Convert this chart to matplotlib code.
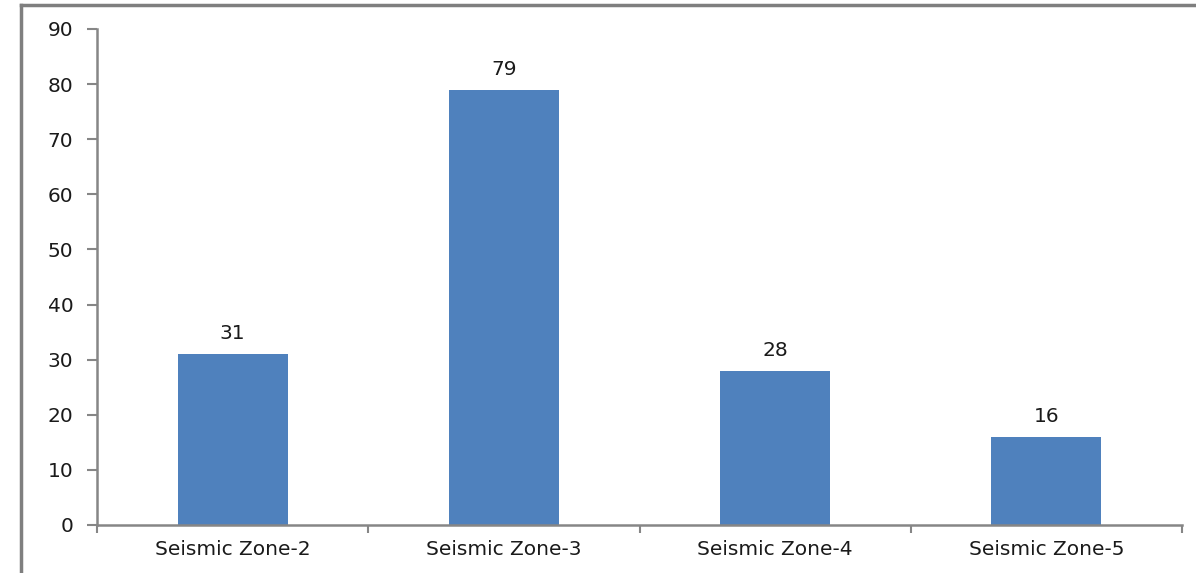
import numpy as np
import matplotlib.pyplot as plt
from matplotlib.lines import Line2D

zones = ["Seismic Zone-2", "Seismic Zone-3", "Seismic Zone-4", "Seismic Zone-5"]
counts = [31, 79, 28, 16]
y_ticks = [0, 10, 20, 30, 40, 50, 60, 70, 80, 90]

BAR_COLOR = "#4F81BD"
AXIS_COLOR = "#868686"
TEXT_COLOR = "#1a1a1a"
FS = 14.5

fig = plt.figure(figsize=(11.96, 5.73), dpi=100)
ax = fig.add_axes([97 / 1196, 1 - 525 / 573, (1182 - 97) / 1196, (525 - 29) / 573])

x = np.arange(len(zones))
bars = ax.bar(x, counts, width=0.405, color=BAR_COLOR, zorder=2)
for rect, v in zip(bars, counts):
    ax.annotate(str(v), (rect.get_x() + rect.get_width() / 2, v),
                xytext=(0, 8), textcoords="offset points",
                ha="center", va="bottom", fontsize=FS, color=TEXT_COLOR)

ax.set_xlim(-0.5, len(zones) - 0.5)
ax.set_ylim(0, 90)
ax.set_yticks(y_ticks)
ax.tick_params(axis="y", length=7, width=1.5, color=AXIS_COLOR,
               labelsize=FS, labelcolor=TEXT_COLOR, pad=10)

# category ticks sit on the boundaries between bars
ax.set_xticks(x)
ax.set_xticklabels(zones)
ax.set_xticks(np.arange(len(zones) + 1) - 0.5, minor=True)
ax.tick_params(axis="x", which="major", length=0, labelsize=FS,
               labelcolor=TEXT_COLOR, pad=11)
ax.tick_params(axis="x", which="minor", length=6, width=1.5, color=AXIS_COLOR)

for side in ["top", "right"]:
    ax.spines[side].set_visible(False)
for side in ["left", "bottom"]:
    ax.spines[side].set_color(AXIS_COLOR)
    ax.spines[side].set_linewidth(1.8)

# partial frame around the chart area (top and left edges only)
fig.add_artist(Line2D([21 / 1196, 1], [1 - 5 / 573, 1 - 5 / 573],
                      transform=fig.transFigure, color="#7f7f7f", linewidth=2.5))
fig.add_artist(Line2D([21 / 1196, 21 / 1196], [0, 1 - 5 / 573],
                      transform=fig.transFigure, color="#7f7f7f", linewidth=2.5))

fig.savefig("out.png", dpi=100)
